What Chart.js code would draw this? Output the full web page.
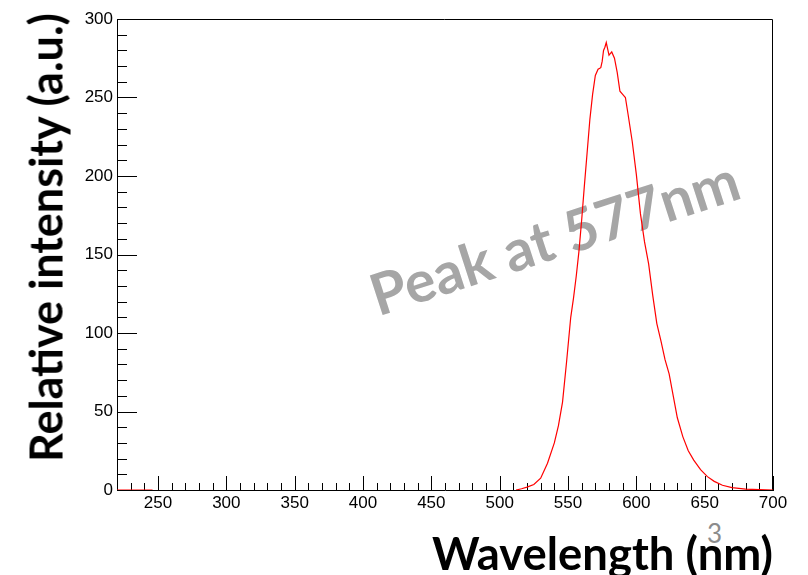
<!DOCTYPE html>
<html>
<head>
<meta charset="utf-8">
<title>Emission spectrum</title>
<script src="https://cdn.jsdelivr.net/npm/chart.js@4.4.1/dist/chart.umd.min.js"></script>
<style>
  html, body { margin: 0; padding: 0; background: #fff; }
  #stage { position: relative; width: 808px; height: 575px; overflow: hidden; }
  #chartBox { position: absolute; left: 0; top: 0; width: 808px; height: 575px; }
  .label { position: absolute; left: 0; top: 0; white-space: nowrap; line-height: 1; font-family: Lato, "Open Sans", sans-serif; }
  #yTitle, #xTitle { font-weight: bold; color: #000; }
  #peakNote { font-weight: bold; color: #a6a6a6; }
  #pageNum { color: #8c8c8c; font-size: 26px; }
</style>
</head>
<body>
<div id="stage">
  <div class="label" id="pageNum">3</div>
  <div class="label" id="peakNote">Peak at 577nm</div>
  <div id="chartBox"><canvas id="spectrum"></canvas></div>
  <div class="label" id="yTitle">Relative intensity (a.u.)</div>
  <div class="label" id="xTitle">Wavelength (nm)</div>
</div>

<script>
// --- DATA ---

const wavelengths = [
    220, 225, 230, 235, 240, 246, 250,
    512, 516, 520, 525, 530, 535, 540, 543, 546, 549, 552, 554, 556, 558,
    560, 562, 564, 566, 568, 570, 572, 574, 575, 576, 577, 578, 579, 580,
    582, 584, 586, 588, 590, 592, 594, 597, 600, 603, 606, 609, 612, 615,
    618, 621, 624, 627, 630, 634, 638, 642, 647, 652, 657, 663, 670, 680,
    690, 700
];

const intensities = [
    0, 0, 0, 0, 0, 0, null,
    0, 0.8, 1.8, 3.5, 7.5, 17, 30, 41, 56, 82, 110, 122, 136, 152,
    172, 194, 215, 236, 252, 264, 268, 269, 273, 280, 282, 285, 281, 277,
    279, 275, 266, 254, 252, 250, 239, 222, 201, 176, 158, 144, 124, 106,
    95, 83, 74, 60, 46, 34, 25, 19, 13, 8.5, 5.5, 3, 1.5, 0.5,
    0.2, 0
];

const xTickValues = [250, 300, 350, 400, 450, 500, 550, 600, 650, 700];
const yTickValues = [0, 50, 100, 150, 200, 250, 300];
const xRange = [220, 700];
const yRange = [0, 300];
const minorStep = 10;

// --- PLUGINS ---

// ROOT-style frame: closed box with inward major/minor ticks
const frameTicks = {
    id: 'frameTicks',
    beforeDatasetsDraw(chart) {
        const { ctx, chartArea: a, scales: { x, y } } = chart;
        ctx.save();
        ctx.strokeStyle = '#000';
        ctx.lineWidth = 1;
        ctx.beginPath();

        const top = Math.round(a.top) + 0.5;
        const right = Math.round(a.right) - 0.5;
        ctx.moveTo(a.left, top);
        ctx.lineTo(right, top);
        ctx.lineTo(right, a.bottom);

        for (let v = x.min; v <= x.max; v += minorStep) {
            const px = Math.round(x.getPixelForValue(v)) + 0.5;
            const len = xTickValues.includes(v) ? 14 : 7;
            ctx.moveTo(px, a.bottom);
            ctx.lineTo(px, a.bottom - len);
        }

        for (let v = y.min; v <= y.max; v += minorStep) {
            const py = Math.round(y.getPixelForValue(v)) + 0.5;
            const len = yTickValues.includes(v) ? 20 : 10;
            ctx.moveTo(a.left, py);
            ctx.lineTo(a.left + len, py);
        }

        ctx.stroke();
        ctx.restore();
    }
};

// --- TEXT HELPERS ---

function fitWidth(el, target) {
    el.style.fontSize = '100px';
    const w = el.offsetWidth;
    el.style.fontSize = (100 * target / w) + 'px';
}

function place(el, cx, cy, deg) {
    el.style.transform = `translate(${cx}px, ${cy}px) translate(-50%, -50%) rotate(${deg}deg)`;
}

// --- CHART ---

const tickFont = { family: '"Liberation Sans", Arial, sans-serif', size: 17 };

new Chart(document.getElementById('spectrum'), {
    type: 'line',
    data: {
        datasets: [{
            data: wavelengths.map((w, i) => ({ x: w, y: intensities[i] })),
            borderColor: '#ff0000',
            borderWidth: 1.2,
            pointRadius: 0,
            fill: false,
            tension: 0,
            spanGaps: false
        }]
    },
    options: {
        responsive: true,
        maintainAspectRatio: false,
        animation: false,
        layout: { padding: { left: 70, top: 19, right: 35, bottom: 55 } },
        plugins: {
            legend: { display: false },
            tooltip: { enabled: false }
        },
        scales: {
            x: {
                type: 'linear',
                min: xRange[0],
                max: xRange[1],
                afterBuildTicks: s => { s.ticks = xTickValues.map(v => ({ value: v })); },
                afterFit: s => { s.height = 30; },
                grid: { display: false, drawTicks: false },
                border: { display: true, color: '#000', width: 1 },
                ticks: { padding: 3, color: '#000', font: tickFont, maxRotation: 0, autoSkip: false }
            },
            y: {
                type: 'linear',
                min: yRange[0],
                max: yRange[1],
                afterBuildTicks: s => { s.ticks = yTickValues.map(v => ({ value: v })); },
                afterFit: s => { s.width = 47; },
                grid: { display: false, drawTicks: false },
                border: { display: true, color: '#000', width: 1 },
                ticks: { padding: 4, color: '#000', font: tickFont, autoSkip: false }
            }
        }
    },
    plugins: [frameTicks]
});

// --- ANNOTATIONS ---

const yTitle = document.getElementById('yTitle');
fitWidth(yTitle, 449);
place(yTitle, 46, 237.5, -90);

const xTitle = document.getElementById('xTitle');
fitWidth(xTitle, 341);
place(xTitle, 602.5, 553, 0);

const peakNote = document.getElementById('peakNote');
fitWidth(peakNote, 384);
place(peakNote, 554, 236, -18);

place(document.getElementById('pageNum'), 714.5, 532.5, 0);
</script>
</body>
</html>
